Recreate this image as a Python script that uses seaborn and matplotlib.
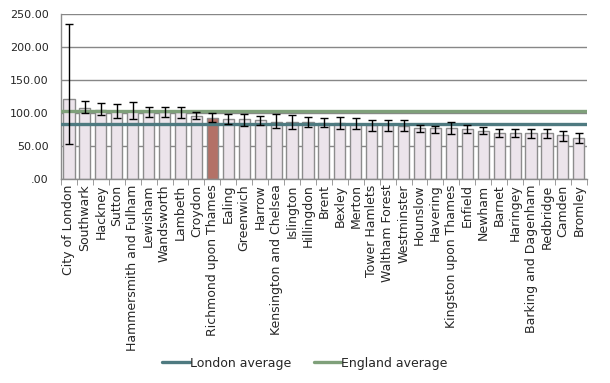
import numpy as np
import matplotlib
matplotlib.use("Agg")
import matplotlib.pyplot as plt
import seaborn as sns
from matplotlib.ticker import FuncFormatter, FixedLocator
from matplotlib.lines import Line2D

boroughs = ["City of London", "Southwark", "Hackney", "Sutton", "Hammersmith and Fulham",
            "Lewisham", "Wandsworth", "Lambeth", "Croydon", "Richmond upon Thames", "Ealing",
            "Greenwich", "Harrow", "Kensington and Chelsea", "Islington", "Hillingdon", "Brent",
            "Bexley", "Merton", "Tower Hamlets", "Waltham Forest", "Westminster", "Hounslow",
            "Havering", "Kingston upon Thames", "Enfield", "Newham", "Barnet", "Haringey",
            "Barking and Dagenham", "Redbridge", "Camden", "Bromley"]
values = [120.7, 108.0, 104.0, 103.0, 103.5, 101.0, 101.0, 101.0, 96.0, 93.0, 91.5,
          90.5, 90.0, 86.5, 86.5, 86.0, 85.5, 85.0, 84.0, 82.0, 81.5, 81.0, 77.0,
          77.0, 77.0, 75.0, 73.4, 69.0, 69.0, 69.0, 69.0, 66.0, 61.4]
upper = [234.8, 117.6, 115.7, 113.6, 116.0, 109.0, 109.0, 109.0, 101.0, 100.0, 99.0,
         98.0, 96.0, 98.5, 97.0, 94.0, 93.0, 94.5, 93.0, 90.0, 89.0, 90.0, 81.5,
         81.0, 87.0, 82.0, 79.0, 76.4, 76.4, 76.4, 75.0, 73.4, 69.0]
lower = [52.3, 100.0, 97.0, 93.0, 91.5, 93.5, 93.5, 93.0, 90.5, 86.0, 84.0,
         80.0, 81.5, 77.0, 76.4, 78.0, 78.0, 76.0, 75.0, 73.4, 73.4, 72.0, 70.4,
         69.4, 67.9, 69.4, 68.0, 64.0, 63.0, 62.5, 62.0, 57.8, 54.8]
highlight = "Richmond upon Thames"
london_avg = 84.0
england_avg = 103.6
yticks = [0, 50, 100, 150, 200, 250]

sns.set_style("white")
plt.rcParams['font.family'] = ['DejaVu Sans']

fig = plt.figure(figsize=(6.1, 3.83), dpi=100)
ax = fig.add_axes([0.1, 0.533, 0.862, 0.43])

bar_fill = "#EDE3EC"
hl_fill = "#C0675A"
palette = {b: (hl_fill if b == highlight else bar_fill) for b in boroughs}
sns.barplot(x=boroughs, y=values, hue=boroughs, palette=palette, legend=False,
            width=0.7, edgecolor="#8C8C8C", linewidth=1.0, ax=ax, zorder=2)

x = np.arange(len(boroughs))
vals = np.array(values)
yerr = np.vstack([vals - np.array(lower), np.array(upper) - vals])

london_col = "#4E7A80"
england_col = "#7FA07A"
ax.axhline(london_avg, color=london_col, lw=2.4, zorder=3)
ax.axhline(england_avg, color=england_col, lw=2.4, zorder=3)
ax.errorbar(x, vals, yerr=yerr, fmt="none", ecolor="black", elinewidth=1.0,
            capsize=3, capthick=1.0, zorder=4)

ax.set_xlim(-0.5, len(boroughs) - 0.5)
ax.set_ylim(0, 250)
ax.set_yticks(yticks)
ax.yaxis.set_major_formatter(FuncFormatter(lambda v, p: ("%.2f" % v).lstrip("0") if v < 1 else "%.2f" % v))
ax.yaxis.grid(True, color="#878787", lw=1.0)
ax.set_axisbelow(True)
ax.tick_params(axis="y", length=0, labelsize=8, pad=9)
ax.set_xticks(x)
ax.set_xticklabels(boroughs, rotation=90, fontsize=9)
ax.tick_params(axis="x", which="major", length=0, pad=4)
ax.xaxis.set_minor_locator(FixedLocator(np.arange(-0.5, len(boroughs), 1.0)))
ax.tick_params(axis="x", which="minor", length=4, color="#8C8C8C", direction="out", bottom=True)
for s in ["top", "right"]:
    ax.spines[s].set_visible(False)
for s in ["left", "bottom"]:
    ax.spines[s].set_color("#8C8C8C")
    ax.spines[s].set_linewidth(1.0)
ax.set_xlabel("")
ax.set_ylabel("")

handles = [Line2D([0], [0], color=london_col, lw=2.4),
           Line2D([0], [0], color=england_col, lw=2.4)]
fig.legend(handles, ["London average", "England average"], loc="center",
           bbox_to_anchor=(0.5, 0.052), ncol=2, frameon=False, fontsize=9,
           handlelength=2.2, handletextpad=0.0, columnspacing=1.8)

fig.savefig("out.png", dpi=100)
